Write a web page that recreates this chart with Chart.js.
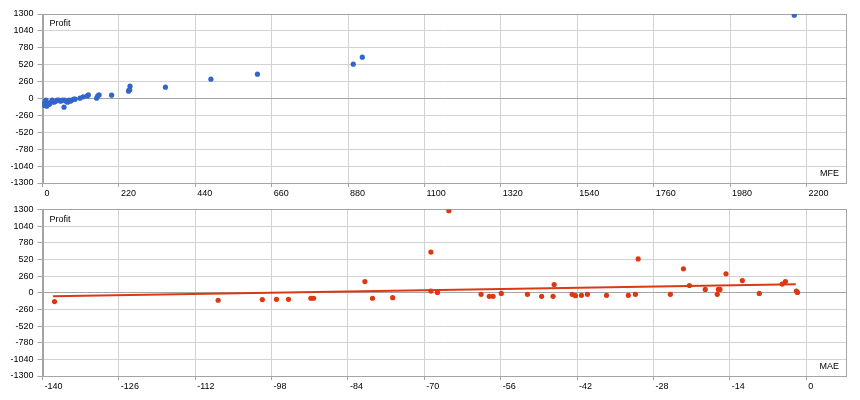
<!DOCTYPE html>
<html>
<head>
<meta charset="utf-8">
<script src="https://cdn.jsdelivr.net/npm/chart.js@4"></script>
<style>
  body { margin: 0; background: #fff; }
  #wrap { position: relative; width: 860px; height: 400px; }
  canvas { position: absolute; left: 0; }
</style>
</head>
<body>
<div id="wrap">
  <canvas id="mfe-graph" width="860" height="200" style="top:0"></canvas>
  <canvas id="mae-graph" width="860" height="200" style="top:200px"></canvas>
</div>
<script>
// profit vs max favourable excursion
const mfeX = [2165, 921, 895, 619, 485, 354, 252, 251, 249, 248, 199, 163, 159, 156, 132, 129, 117, 108, 94, 90,
              62, 84, 80, 76, 72, 68, 64, 58, 52, 47, 42, 37, 33, 28, 24, 20, 17, 14, 12, 9, 7, 5, 4, 3, 10];
const mfeProfit = [1281, 636, 528, 374, 297, 174, 189, 134, 127, 112, 51, 55, 40, 5, 55, 40, 26, 5, -11, -11,
                   -134, -26, -41, -26, -57, -41, -26, -26, -41, -26, -26, -46, -57, -26, -57, -87, -77, -103, -118, -87, -107, -103, -57, -87, -26];

// profit vs max adverse excursion
const maeX = [-137.8, -107.8, -99.7, -97.1, -94.9, -90.8, -90.3, -80.9, -79.5, -75.8, -68.8, -68.8, -67.6, -65.5,
              -59.6, -58.1, -57.4, -55.9, -51.1, -48.5, -46.4, -46.2, -42.9, -42.3, -41.2, -40.1, -36.6, -32.6,
              -31.3, -30.8, -24.9, -22.5, -21.4, -18.5, -16.3, -16.1, -15.8, -14.7, -11.7, -8.6, -4.4, -3.8, -1.8, -1.6];
const maeProfit = [-138, -118, -107, -103, -103, -87, -87, 173, -87, -77, 634, 26, 5, 1279,
                   -26, -57, -57, -11, -26, -57, -57, 127, -26, -46, -41, -26, -41, -41,
                   -26, 527, -26, 373, 112, 51, -26, 51, 51, 296, 189, -11, 134, 173, 26, 5];

// trend line across the MAE plot
const trendX = [-138.1, -1.9];
const trendY = [-54, 131];

const mfeTicks = [0, 220, 440, 660, 880, 1100, 1320, 1540, 1760, 1980, 2200];
const maeTicks = [-140, -126, -112, -98, -84, -70, -56, -42, -28, -14, 0];
const profitTicks = [-1300, -1040, -780, -520, -260, 0, 260, 520, 780, 1040, 1300];

const BLUE = '#3366cc';
const RED = '#dc3912';
const DARK = '#a4a4a4';
const LIGHT = '#d2d2d2';
const FONT = { family: 'Liberation Sans', size: 9 };

const toPoints = (xs, ys) => xs.map((x, i) => ({ x: x, y: ys[i] }));

// frame round the plot plus the two corner captions
const frameLabels = {
  id: 'frameLabels',
  beforeDatasetsDraw(chart, args, opts) {
    const { ctx, chartArea: a } = chart;
    ctx.save();
    ctx.strokeStyle = DARK;
    ctx.lineWidth = 1;
    ctx.strokeRect(Math.round(a.left) + 0.5, Math.round(a.top) + 0.5,
                   Math.round(a.right) - Math.round(a.left), Math.round(a.bottom) - Math.round(a.top));
    ctx.fillStyle = '#000';
    ctx.font = '9px "Liberation Sans"';
    ctx.textBaseline = 'middle';
    ctx.textAlign = 'left';
    ctx.fillText('Profit', a.left + 7, a.top + 10);
    ctx.textAlign = 'right';
    ctx.fillText(opts.xTitle, a.right - 7, a.bottom - 9);
    ctx.restore();
  }
};

function scalesFor(xMin, xMax, xTicks, xAxisHeight) {
  return {
    x: {
      type: 'linear',
      min: xMin,
      max: xMax,
      afterBuildTicks: s => { s.ticks = xTicks.map(v => ({ value: v })); },
      afterFit: s => { s.height = xAxisHeight; },
      grid: { color: LIGHT, tickColor: DARK, tickLength: 4 },
      border: { color: DARK },
      ticks: {
        color: '#000', font: FONT, padding: 1, align: 'start', labelOffset: 2,
        maxRotation: 0, autoSkip: false, callback: v => String(v)
      }
    },
    y: {
      type: 'linear',
      min: -1300,
      max: 1300,
      afterBuildTicks: s => { s.ticks = profitTicks.map(v => ({ value: v })); },
      afterFit: s => { s.width = 42.5; },
      grid: { color: c => (c.tick && c.tick.value === 0) ? DARK : LIGHT, tickColor: DARK, tickLength: 5 },
      border: { color: DARK },
      ticks: { color: '#000', font: FONT, padding: 4, autoSkip: false, callback: v => String(v) }
    }
  };
}

const mfeChart = new Chart(document.getElementById('mfe-graph'), {
  type: 'scatter',
  data: {
    datasets: [{
      data: toPoints(mfeX, mfeProfit),
      backgroundColor: BLUE,
      borderWidth: 0,
      pointRadius: 2.6
    }]
  },
  options: {
    responsive: false,
    animation: false,
    devicePixelRatio: 1,
    layout: { padding: { top: 14, right: 14, left: 0, bottom: 0 } },
    plugins: { legend: { display: false }, tooltip: { enabled: false }, frameLabels: { xTitle: 'MFE' } },
    scales: scalesFor(0, 2314, mfeTicks, 17)
  },
  plugins: [frameLabels]
});

const maeChart = new Chart(document.getElementById('mae-graph'), {
  type: 'scatter',
  data: {
    datasets: [{
      data: toPoints(maeX, maeProfit),
      backgroundColor: RED,
      borderWidth: 0,
      pointRadius: 2.6
    }, {
      data: toPoints(trendX, trendY),
      showLine: true,
      borderColor: RED,
      borderWidth: 2,
      pointRadius: 0
    }]
  },
  options: {
    responsive: false,
    animation: false,
    devicePixelRatio: 1,
    layout: { padding: { top: 7, right: 14, left: 0, bottom: 0 } },
    plugins: { legend: { display: false }, tooltip: { enabled: false }, frameLabels: { xTitle: 'MAE' } },
    scales: scalesFor(-140, 7.3, maeTicks, 24)
  },
  plugins: [frameLabels]
});
</script>
</body>
</html>
